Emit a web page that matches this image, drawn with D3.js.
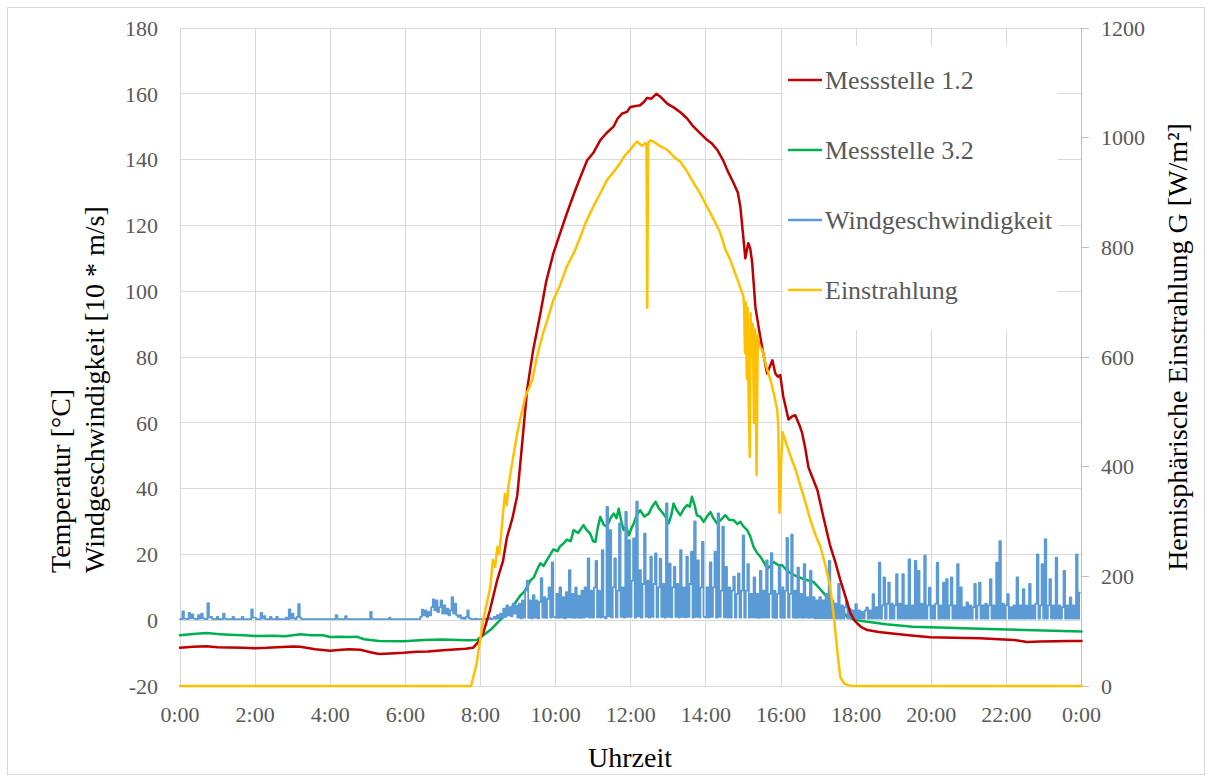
<!DOCTYPE html>
<html><head><meta charset="utf-8">
<script src="https://cdn.jsdelivr.net/npm/d3@7"></script>
<style>body{margin:0;background:#fff}</style>
</head><body><svg id="chart" width="1212" height="780"></svg>
<script>
// ---------- data ----------
const hourTicks = [0,2,4,6,8,10,12,14,16,18,20,22,24];
const hourLabels = ["0:00","2:00","4:00","6:00","8:00","10:00","12:00","14:00","16:00","18:00","20:00","22:00","0:00"];
const tempTicks = [-20,0,20,40,60,80,100,120,140,160,180];
const irrTicks = [0,200,400,600,800,1000,1200];
const seriesNames = ["Messstelle 1.2","Messstelle 3.2","Windgeschwindigkeit","Einstrahlung"];
const seriesColors = ["#C00000","#00B050","#5B9BD5","#FFC000"];

// [hour, °C]
const messstelle12 = [[0,-8.4],[0.35,-8.1],[0.7,-7.9],[1.0,-8.2],[1.3,-8.3],[1.7,-8.4],[2.0,-8.5],[2.3,-8.4],[2.6,-8.2],[3.0,-8.0],[3.2,-8.1],[3.6,-8.8],[4.0,-9.3],[4.3,-9.0],[4.5,-8.8],[4.8,-9.0],[5.1,-9.8],[5.3,-10.3],[5.6,-10.1],[5.95,-9.9],[6.3,-9.6],[6.6,-9.5],[7.0,-9.1],[7.3,-8.9],[7.6,-8.7],[7.8,-8.4],[7.95,-6.5],[8.07,-4],[8.25,3],[8.44,12],[8.6,18],[8.7,25],[8.85,31],[8.98,38],[9.1,52.6],[9.24,70],[9.4,82],[9.59,93],[9.75,103],[9.94,111.5],[10.1,117],[10.3,123.7],[10.5,130],[10.66,134.7],[10.84,139.8],[11.0,142],[11.19,145.9],[11.35,148],[11.54,150],[11.65,152.5],[11.77,154],[11.9,154.5],[11.99,156],[12.1,156.2],[12.25,156.5],[12.35,157.5],[12.43,158.7],[12.55,158.5],[12.68,160],[12.8,159],[12.97,157],[13.15,155.8],[13.32,154.4],[13.5,152.5],[13.67,150],[13.85,148],[14.03,146],[14.15,145],[14.3,143],[14.45,140],[14.57,136.8],[14.74,132.8],[14.85,130],[14.92,125.5],[15.0,116],[15.05,110],[15.1,113],[15.13,114.6],[15.18,113],[15.23,109],[15.32,95],[15.45,86],[15.53,81],[15.63,75],[15.7,77],[15.77,79],[15.85,75],[15.92,74],[15.98,74.5],[16.06,68],[16.2,61],[16.3,62],[16.38,62.3],[16.5,59],[16.56,57],[16.65,52],[16.73,46.5],[16.85,43],[16.97,39.5],[17.13,31.3],[17.3,23],[17.45,17.5],[17.58,12.2],[17.72,7],[17.85,2.1],[17.95,0],[18.03,-1],[18.15,-2.2],[18.3,-3],[18.6,-3.6],[18.9,-4],[19.4,-4.6],[19.98,-5.2],[20.6,-5.3],[21.3,-5.5],[21.8,-5.8],[22.2,-6],[22.55,-6.6],[22.9,-6.5],[23.3,-6.4],[23.7,-6.3],[24,-6.3]];

// [hour, °C]
const messstelle32 = [[0,-4.6],[0.35,-4.2],[0.7,-3.9],[1.0,-4.2],[1.3,-4.4],[1.7,-4.6],[2.0,-4.8],[2.5,-4.7],[2.8,-4.9],[3.2,-4.3],[3.5,-4.6],[3.8,-4.6],[4.0,-5.1],[4.3,-5.0],[4.5,-5.1],[4.7,-5.0],[4.9,-5.8],[5.3,-6.3],[5.95,-6.4],[6.5,-6.0],[7.0,-5.9],[7.4,-6.0],[7.7,-6.1],[7.9,-6.0],[8.0,-5.2],[8.26,-3],[8.52,0],[8.79,3],[9.06,7.5],[9.15,8.5],[9.24,10],[9.32,12],[9.42,13],[9.5,15.2],[9.59,17.3],[9.68,16.5],[9.78,18.5],[9.86,20],[9.94,21.5],[10.05,21],[10.12,22.5],[10.21,23.3],[10.3,24.5],[10.4,24],[10.48,27.4],[10.6,26.5],[10.74,28.9],[10.82,27.5],[10.92,26.3],[11.0,24],[11.06,23.8],[11.12,28],[11.19,31.4],[11.28,29],[11.37,28.4],[11.46,31],[11.55,32.4],[11.62,31],[11.68,33.9],[11.75,30],[11.81,27.4],[11.88,28.5],[11.95,25.8],[12.02,28],[12.08,29.4],[12.16,32],[12.25,33.4],[12.36,31.5],[12.48,32.4],[12.57,34.5],[12.66,36],[12.75,34],[12.83,32.9],[12.92,31.5],[13.01,29.4],[13.08,32],[13.14,35.5],[13.22,33.5],[13.32,31.9],[13.42,34],[13.5,35],[13.57,34.5],[13.63,37.5],[13.7,35],[13.76,31.9],[13.85,31.5],[13.94,29.9],[14.03,31.5],[14.12,32.9],[14.2,31],[14.3,29.4],[14.4,30.5],[14.52,31.9],[14.62,30.5],[14.74,30.4],[14.84,29.2],[14.92,29.9],[15.0,28.5],[15.1,27.4],[15.18,25.5],[15.27,22.3],[15.36,20.5],[15.45,19.3],[15.55,17.5],[15.63,15.7],[15.72,16.5],[15.81,17.7],[15.92,16.8],[16.03,16.7],[16.15,15.2],[16.3,14],[16.45,13.2],[16.6,12.5],[16.75,12],[16.87,11.6],[17.0,10],[17.15,8],[17.31,6],[17.5,4],[17.65,2.5],[17.76,1],[17.93,0.3],[18.1,-0.2],[18.3,-0.5],[18.8,-1.2],[19.5,-2],[20.2,-2.2],[21.3,-2.6],[22.0,-2.8],[23.0,-3.1],[24,-3.4]];

// wind speed [10 * m/s], one value every 2.5 minutes, one row per hour
const windStepMinutes = 2.5;
const windSpeed = [
0.3,0.3,2.7,0.5,0.4,0.3,2.2,0.6,1.8,0.5,0.4,0.3,1.5,0.5,2.0,0.6,0.4,0.3,5.2,0.8,1.0,0.4,0.3,0.3,
1.0,0.3,0.3,0.3,2.0,0.5,0.3,0.3,0.3,0.3,1.0,0.3,0.3,0.3,0.3,0.3,1.0,0.3,0.3,0.3,0.3,0.3,3.3,0.8,
0.8,0.3,0.3,0.3,2.2,0.6,1.2,0.3,0.3,0.3,1.0,0.3,0.3,0.3,1.0,0.3,0.3,0.3,0.3,0.3,0.8,0.3,3.3,0.5,
2.0,0.6,0.3,1.0,4.9,0.8,0.3,0.3,0.3,0.3,0.3,0.3,0.3,0.3,0.3,0.3,0.3,0.3,0.3,0.3,0.3,0.3,0.3,0.3,
0.3,0.3,0.3,0.3,1.5,0.4,0.3,0.3,0.3,0.3,1.2,0.4,0.3,0.3,0.3,0.3,0.3,0.3,0.3,0.3,0.3,0.3,0.3,0.3,
0.3,0.3,2.5,0.4,0.3,0.3,0.3,0.3,0.3,0.3,0.3,0.3,0.3,0.3,0.8,0.3,0.3,0.3,0.3,0.3,0.3,0.3,0.3,0.3,
0.3,0.3,0.3,0.3,0.3,0.3,0.3,0.3,0.3,0.3,1.0,3.2,1.5,3.0,1.0,2.5,1.5,4.0,6.3,3.0,6.0,2.5,4.0,6.0,
2.0,4.5,2.0,3.5,1.5,3.0,7.0,2.0,5.0,1.5,1.0,1.5,0.5,0.8,0.4,1.0,3.0,0.6,0.4,0.3,0.3,0.5,0.3,0.3,
0.3,0.3,0.3,0.5,0.3,0.3,0.8,0.3,0.5,1.0,0.4,1.5,0.6,2.0,0.8,3.5,1.0,4.5,1.5,4.0,1.2,5.0,2.0,4.5,
0.8,5.0,0.6,6.0,0.8,9.0,12.0,0.7,6.0,0.6,7.6,0.8,6.0,0.6,5.5,12.8,0.8,7.0,0.7,6.5,10.0,0.8,17.6,1.0,
0.8,8.0,0.7,10.0,0.8,7.0,0.6,8.5,0.9,15.2,0.8,8.0,0.7,10.0,0.8,7.5,0.7,9.0,0.8,10.0,1.0,18.8,0.8,9.0,
0.8,10.0,18.0,0.9,9.0,0.8,21.3,1.0,0.6,34.4,1.2,27.4,0.8,10.0,18.8,0.9,9.0,29.4,1.0,10.0,0.8,32.9,1.0,24.3,
1.0,12.0,24.9,0.8,36.0,1.2,15.2,0.8,11.0,26.3,1.0,12.0,0.8,19.3,1.0,11.0,20.3,0.9,10.0,18.7,1.0,11.0,0.8,35.5,
1.0,17.2,0.9,10.0,16.2,1.0,11.0,0.8,21.3,1.0,10.0,0.9,19.3,1.0,11.0,20.8,0.8,30.0,1.0,18.2,0.9,10.0,23.8,1.0,
0.9,10.0,0.8,17.6,1.0,10.0,20.8,0.8,32.5,1.0,9.0,28.4,0.9,16.2,0.8,10.0,0.8,9.0,13.2,0.8,8.0,14.2,0.8,9.0,
25.8,0.8,9.0,17.0,0.8,8.0,0.9,13.0,0.8,8.0,0.7,15.0,0.8,9.0,0.8,18.2,0.8,8.0,20.4,0.8,9.0,0.7,8.0,16.2,
0.8,10.0,0.7,9.0,25.0,0.8,8.0,26.0,0.8,9.0,0.7,16.0,0.8,8.0,0.7,17.0,0.8,7.0,0.7,15.0,0.8,7.0,0.6,6.0,
0.6,7.0,0.6,6.0,0.6,8.0,0.6,18.0,0.6,6.0,0.5,5.0,0.5,11.0,0.5,4.5,0.5,4.0,5.9,0.5,3.5,0.5,3.0,0.5,
4.9,0.5,3.0,0.5,2.5,0.5,3.0,3.9,0.5,3.0,0.5,7.9,0.5,4.0,0.5,17.5,0.5,4.5,13.0,0.5,5.0,11.4,0.5,5.0,
0.5,4.5,14.0,0.5,5.0,0.5,14.0,0.5,4.5,0.5,18.5,0.5,4.5,0.5,18.0,0.5,15.0,0.5,5.0,0.5,19.6,0.5,4.5,9.9,
0.5,4.5,0.5,5.0,17.5,0.5,4.5,0.5,11.4,0.5,12.5,0.5,4.5,13.0,0.5,4.5,0.5,17.0,0.5,10.0,0.5,4.0,0.5,5.4,
0.5,4.5,0.5,4.0,11.0,0.5,4.5,11.4,0.5,4.5,0.5,5.0,0.5,4.5,12.5,0.5,4.5,0.5,17.5,0.5,24.0,0.5,5.0,0.5,
4.5,7.9,0.5,4.0,0.5,4.5,0.5,13.0,0.5,4.5,0.5,9.4,0.5,4.5,0.5,11.0,0.5,4.5,0.5,5.0,20.0,0.5,4.5,17.0,
0.5,24.6,0.5,4.5,12.5,0.5,4.5,0.5,19.0,0.5,4.5,0.5,4.0,15.0,0.5,4.5,0.5,6.9,0.5,4.5,0.5,20.0,0.5,8.4
];

// [hour, W/m²]
const einstrahlung = [[0,0],[7.75,0],[7.9,42],[8.07,120],[8.26,180],[8.33,230],[8.39,217],[8.45,254],[8.5,240],[8.6,315],[8.65,350],[8.7,330],[8.74,363],[8.8,389],[8.98,462],[9.19,527],[9.38,558],[9.5,600],[9.67,644],[9.8,672],[9.94,704],[10.1,728],[10.3,765],[10.5,792],[10.66,819],[10.8,845],[11.0,874],[11.2,900],[11.37,923],[11.55,938],[11.72,954],[11.85,968],[11.99,978],[12.1,988],[12.17,993],[12.3,985],[12.39,990],[12.42,985],[12.44,690],[12.46,990],[12.52,995],[12.6,993],[12.75,986],[12.97,978],[13.15,965],[13.32,956],[13.5,938],[13.67,918],[13.85,898],[14.03,874],[14.2,852],[14.38,827],[14.52,796],[14.65,777],[14.84,741],[15.0,710],[15.02,690],[15.04,607],[15.06,700],[15.09,560],[15.11,690],[15.14,520],[15.17,418],[15.19,680],[15.22,600],[15.25,660],[15.28,480],[15.31,650],[15.35,385],[15.38,640],[15.42,620],[15.5,613],[15.6,585],[15.72,558],[15.82,530],[15.9,504],[15.93,470],[15.96,316],[16.0,400],[16.04,463],[16.15,440],[16.25,420],[16.4,392],[16.52,364],[16.65,335],[16.78,303],[16.92,275],[17.05,254],[17.2,215],[17.31,181],[17.4,130],[17.45,97],[17.52,50],[17.58,16],[17.68,5],[17.77,2],[17.9,0],[24,0]];

// ---------- chart ----------
(function(){
const svg = d3.select("#chart");
const FONT = "'Liberation Serif','Times New Roman',serif";
const pL = 180, pR = 1081.5, pT = 28, pB = 686;

const x = d3.scaleLinear().domain([0,24]).range([pL,pR]);
const yT = d3.scaleLinear().domain([-20,180]).range([pB,pT]);
const yG = d3.scaleLinear().domain([0,1200]).range([pB,pT]);

svg.append("rect").attr("x",0).attr("y",0).attr("width",1212).attr("height",780).attr("fill","#fff");
svg.append("rect").attr("x",7.5).attr("y",7.5).attr("width",1197).attr("height",767)
  .attr("fill","none").attr("stroke","#d9d9d9").attr("stroke-width",1);

// gridlines
const grid = svg.append("g").attr("stroke","#d9d9d9").attr("stroke-width",1).attr("shape-rendering","crispEdges");
hourTicks.forEach(h => grid.append("line").attr("x1",x(h)).attr("x2",x(h)).attr("y1",pT).attr("y2",pB));
tempTicks.forEach(v => grid.append("line").attr("x1",pL).attr("x2",pR).attr("y1",yT(v)).attr("y2",yT(v)));

// right axis line + ticks
const ra = svg.append("g").attr("stroke","#bfbfbf").attr("stroke-width",1).attr("shape-rendering","crispEdges");
ra.append("line").attr("x1",pR).attr("x2",pR).attr("y1",pT).attr("y2",pB);
irrTicks.forEach(v => ra.append("line").attr("x1",pR).attr("x2",pR+7).attr("y1",yG(v)).attr("y2",yG(v)));

// tick labels
const tickStyle = s => s.attr("font-family",FONT).attr("font-size",22).attr("fill","#595959");
svg.append("g").selectAll("text").data(tempTicks).join("text")
  .attr("x",158).attr("y",d=>yT(d)).attr("dy","0.35em").attr("text-anchor","end").text(d=>d).call(tickStyle);
svg.append("g").selectAll("text").data(irrTicks).join("text")
  .attr("x",1101).attr("y",d=>yG(d)).attr("dy","0.35em").attr("text-anchor","start").text(d=>d).call(tickStyle);
svg.append("g").selectAll("text").data(hourTicks).join("text")
  .attr("x",d=>x(d)).attr("y",722).attr("text-anchor","middle").text((d,i)=>hourLabels[i]).call(tickStyle);

// series
const lineT = d3.line().x(d=>x(d[0])).y(d=>yT(d[1]));
const lineW = d3.line().x(d=>x(d[0])).y(d=>yT(d[1])).curve(d3.curveStep);
const lineG = d3.line().x(d=>x(d[0])).y(d=>yG(d[1]));
const windPts = windSpeed.map((v,i)=>[i*windStepMinutes/60, v]);

function path(data, gen, color, w){
  svg.append("path").datum(data).attr("d",gen).attr("fill","none")
    .attr("stroke",color).attr("stroke-width",w).attr("stroke-linejoin","round").attr("stroke-linecap","round");
}
path(messstelle32, lineT, seriesColors[1], 2.5);
path(windPts, lineW, seriesColors[2], 1.8);
path(messstelle12, lineT, seriesColors[0], 2.5);
path(einstrahlung, lineG, seriesColors[3], 2.5);

// legend
const lg = svg.append("g");
lg.append("rect").attr("x",783).attr("y",46).attr("width",275).attr("height",284).attr("fill","#fff");
const legendY = [80,150,220,290];
seriesNames.forEach((n,i)=>{
  lg.append("line").attr("x1",788).attr("x2",822).attr("y1",legendY[i]).attr("y2",legendY[i])
    .attr("stroke",seriesColors[i]).attr("stroke-width",2.5);
  lg.append("text").attr("x",825).attr("y",legendY[i]).attr("dy","0.35em")
    .attr("font-family",FONT).attr("font-size",26).attr("fill","#595959").text(n);
});

// axis titles
const titleStyle = s => s.attr("font-family",FONT).attr("font-size",28).attr("fill","#000");
svg.append("text").attr("transform","translate(70,573) rotate(-90)").attr("text-anchor","start")
  .text("Temperatur [°C]").call(titleStyle);
svg.append("text").attr("transform","translate(104,573) rotate(-90)").attr("text-anchor","start")
  .text("Windgeschwindigkeit [10 * m/s]").call(titleStyle);
svg.append("text").attr("transform","translate(1187,347) rotate(-90)").attr("text-anchor","middle")
  .text("Hemisphärische Einstrahlung G [W/m²]").call(titleStyle);
svg.append("text").attr("x",630).attr("y",767).attr("text-anchor","middle")
  .text("Uhrzeit").call(titleStyle);
})();
</script>
</body></html>
